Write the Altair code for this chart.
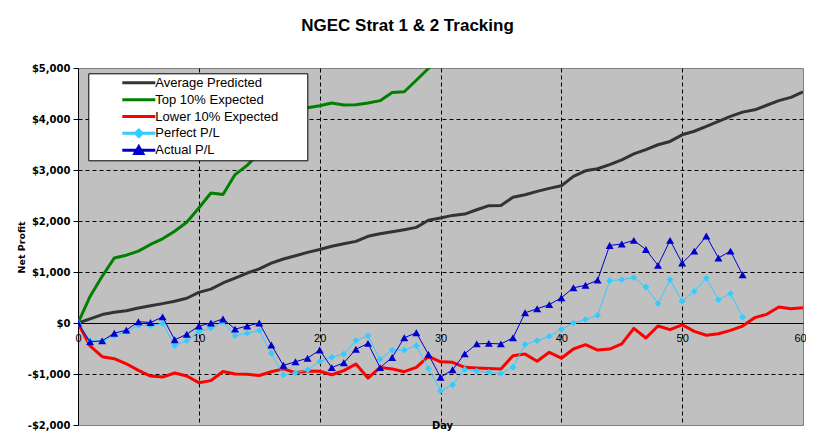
import altair as alt
import pandas as pd

# ---------------- data ----------------
days = list(range(61))

avg_predicted = [0, 80, 165, 210, 240, 295, 340, 380, 425, 485,
                 600, 665, 785, 880, 980, 1060, 1175, 1255, 1320, 1385,
                 1440, 1505, 1555, 1600, 1700, 1750, 1790, 1830, 1875, 2015,
                 2060, 2110, 2135, 2220, 2300, 2305, 2465, 2515, 2580, 2640,
                 2690, 2875, 2985, 3025, 3105, 3200, 3315, 3400, 3495, 3560,
                 3690, 3760, 3855, 3955, 4050, 4135, 4180, 4270, 4360, 4425, 4530]

top10_expected = [0, 520, 915, 1275, 1330, 1410, 1540, 1650, 1800, 1975,
                  2255, 2550, 2520, 2910, 3090, 3330, 3600, 3850, 4070, 4220,
                  4260, 4315, 4275, 4280, 4315, 4360, 4520, 4535, 4760, 4990, 5250]

lower10_expected = [0, -450, -660, -700, -800, -930, -1040, -1060, -980, -1040,
                    -1170, -1130, -950, -1000, -1005, -1030, -955, -900, -975, -940,
                    -945, -1015, -935, -805, -1080, -870, -900, -955, -870, -655,
                    -760, -770, -870, -880, -890, -900, -640, -610, -750, -575,
                    -690, -510, -425, -530, -510, -410, -105, -295, -60, -130,
                    -35, -165, -240, -210, -145, -60, 105, 170, 315, 280, 300]

perfect_pl = [0, -350, -350, -250, -170, -50, -50, -10, -445, -350,
              -170, -100, 20, -250, -200, -150, -595, -1020, -978, -920,
              -755, -670, -610, -345, -250, -715, -530, -530, -445, -890,
              -1330, -1215, -910, -945, -965, -990, -865, -420, -345, -260,
              -127, 0, 70, 150, 830, 850, 890, 705, 380, 850,
              425, 620, 880, 455, 575, 115]

actual_pl = [0, -370, -350, -200, -140, 25, 10, 120, -330, -220,
             -60, 0, 80, -120, -60, 0, -430, -830, -760, -690,
             -530, -875, -780, -515, -400, -875, -675, -290, -190, -615,
             -1065, -915, -605, -410, -400, -410, -290, 200, 280, 360,
             495, 690, 740, 840, 1520, 1550, 1620, 1440, 1130, 1620,
             1175, 1410, 1705, 1275, 1410, 945]

series_names = ["Average Predicted", "Top 10% Expected", "Lower 10% Expected",
                "Perfect P/L", "Actual P/L"]
series_colors = ["#333333", "#008000", "#FF0000", "#33CCFF", "#0000CC"]
series_widths = [3, 3, 3, 1, 1]

x_ticks = [0, 10, 20, 30, 40, 50, 60]
y_ticks = [-2000, -1000, 0, 1000, 2000, 3000, 4000, 5000]

# ---------------- table ----------------
rows = []
for name, vals in zip(series_names, [avg_predicted, top10_expected, lower10_expected,
                                     perfect_pl, actual_pl]):
    for d, v in zip(days, vals):
        rows.append({"day": d, "value": v, "series": name})
df = pd.DataFrame(rows)

# ---------------- encodings ----------------
x_enc = alt.X(
    "day:Q",
    scale=alt.Scale(domain=[0, 60], nice=False),
    axis=alt.Axis(
        values=x_ticks, orient="bottom", offset=-102, title="Day",
        domainColor="black", domainWidth=1, ticks=False,
        labelFont="Liberation Sans", labelFontSize=11, labelColor="black",
        labelPadding=9, labelAngle=0, labelFlush=False, labelOverlap=False,
        labelOffset={"condition": {"test": "datum.value == 60", "value": -3}, "value": 0},
        grid=True, gridColor="black", gridWidth=1, gridDash=[4, 3],
        gridOpacity={"condition": {"test": "datum.value == 0 || datum.value == 60", "value": 0}, "value": 1},
        titleFont="DejaVu Sans", titleFontWeight="bold", titleFontSize=10, titleColor="black",
        titleX=364, titleY=102, titleAlign="center", titleBaseline="middle",
    ),
)

y_enc = alt.Y(
    "value:Q",
    scale=alt.Scale(domain=[-2000, 5000], nice=False),
    axis=alt.Axis(
        values=y_ticks, title="Net Profit",
        labelExpr="datum.value < 0 ? '-$' + format(-datum.value, ',') : '$' + format(datum.value, ',')",
        labelFont="DejaVu Sans", labelFontWeight="bold", labelFontSize=10, labelColor="black",
        labelPadding=3, labelFlush=False, labelOverlap=False,
        tickColor="black", tickSize=5, tickWidth=1,
        domainColor="black", domainWidth=1,
        grid=True, gridColor="black", gridWidth=1, gridDash=[4, 3],
        gridOpacity={"condition": {"test": "datum.value == 5000 || datum.value == -2000 || datum.value == 0", "value": 0}, "value": 1},
        titleFont="DejaVu Sans", titleFontWeight="bold", titleFontSize=9.5, titleColor="black",
        titleAngle=270, titleX=-57, titleY=179, titleAlign="center", titleBaseline="middle",
    ),
)

color_enc = alt.Color("series:N", scale=alt.Scale(domain=series_names, range=series_colors), legend=None)

base = alt.Chart(df)

thick_lines = base.transform_filter(
    alt.FieldOneOfPredicate(field="series", oneOf=series_names[:3])
).mark_line(strokeWidth=3, clip=True, strokeJoin="round").encode(
    x=x_enc, y=y_enc, color=color_enc, order="day:Q"
)

perfect_line = base.transform_filter(alt.datum.series == "Perfect P/L").mark_line(
    strokeWidth=1, clip=True
).encode(x=x_enc, y=y_enc, color=color_enc, order="day:Q")

perfect_pts = base.transform_filter(alt.datum.series == "Perfect P/L").mark_point(
    shape="diamond", filled=True, size=45, opacity=1, strokeWidth=1, clip=True
).encode(x=x_enc, y=y_enc, color=color_enc)

actual_line = base.transform_filter(alt.datum.series == "Actual P/L").mark_line(
    strokeWidth=1, clip=True
).encode(x=x_enc, y=y_enc, color=color_enc, order="day:Q")

actual_pts = base.transform_filter(alt.datum.series == "Actual P/L").mark_point(
    shape="triangle-up", filled=True, size=64, opacity=1, strokeWidth=1, clip=True
).encode(x=x_enc, y=y_enc, color=color_enc)

# ---------------- legend (from scales of an invisible, zero-size point layer) ----------------
legend_shapes = [
    "M-2.75,0H2.75",
    "M-2.75,0H2.75",
    "M-2.75,0H2.75",
    "M-2.75,0H2.75M0,-0.55L0.55,0L0,0.55L-0.55,0Z",
    "M-2.75,0H2.75M0,-0.58L0.66,0.55L-0.66,0.55Z",
]

legend_obj = alt.Legend(
    orient="none", legendX=10.3, legendY=5.3, title=None,
    fillColor="white", strokeColor="black", padding=3,
    symbolSize=144, symbolOffset=40, labelOffset=9, clipHeight=13,
    labelFont="Liberation Sans", labelFontSize=13, labelColor="black",
    labelLimit=400, rowPadding=2.85, labelBaseline="middle",
    labelExpr="datum.label + '\u00a0\u00a0\u00a0\u00a0\u00a0\u00a0\u00a0\u200b'",
)

legend_layer = base.mark_point(filled=True, opacity=1, size=0, clip=True).encode(
    x=x_enc, y=y_enc,
    fill=alt.Fill("series:N", scale=alt.Scale(domain=series_names, range=series_colors), legend=legend_obj),
    stroke=alt.Stroke("series:N", scale=alt.Scale(domain=series_names, range=series_colors), legend=legend_obj),
    shape=alt.Shape("series:N", scale=alt.Scale(domain=series_names, range=legend_shapes), legend=legend_obj),
    strokeWidth=alt.StrokeWidth("series:N", scale=alt.Scale(domain=series_names, range=series_widths), legend=legend_obj),
)

chart = alt.layer(
    legend_layer, thick_lines, perfect_line, perfect_pts, actual_line, actual_pts
).properties(
    width=725, height=357,
    title=alt.TitleParams(
        text="NGEC Strat 1 & 2 Tracking", font="Liberation Sans", fontSize=17,
        fontWeight="bold", color="black", anchor="middle", frame="group",
        dx=-33, offset=28,
    ),
    autosize=alt.AutoSizeParams(type="none"),
    padding={"left": 70, "top": 60, "right": 3, "bottom": 6},
    background="white",
).configure_view(
    fill="#C0C0C0", stroke="#808080", strokeWidth=1
)

chart.save("out.html", embed_options={"renderer": "svg", "actions": False})
